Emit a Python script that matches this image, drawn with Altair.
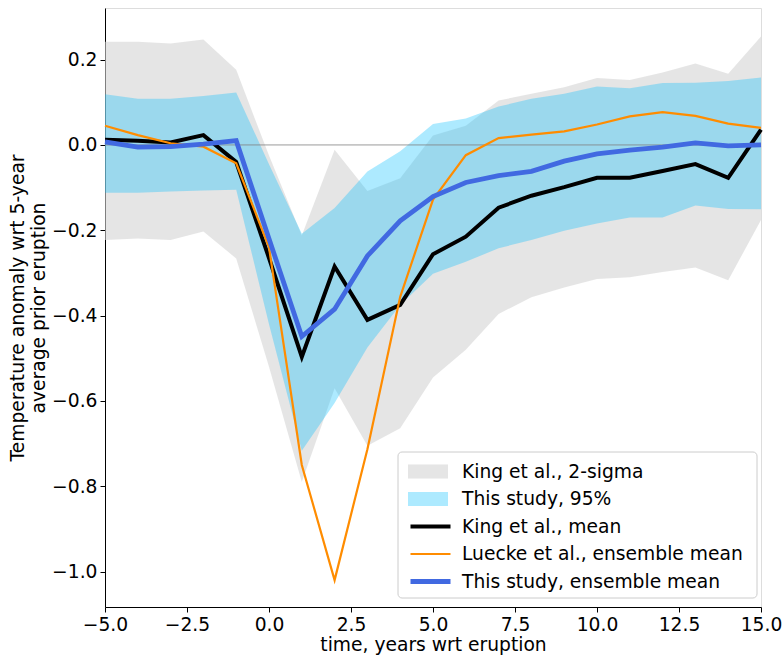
import altair as alt
import pandas as pd

# ---------------- data ----------------
years = list(range(-5, 16))

king_mean = [0.012, 0.010, 0.006, 0.023, -0.040, -0.265, -0.497, -0.285, -0.410, -0.375,
             -0.256, -0.215, -0.147, -0.119, -0.099, -0.077, -0.077, -0.061, -0.045, -0.077, 0.036]
luecke_mean = [0.045, 0.023, 0.004, -0.004, -0.043, -0.240, -0.750, -1.020, -0.713, -0.356,
               -0.128, -0.024, 0.016, 0.024, 0.032, 0.048, 0.067, 0.077, 0.068, 0.050, 0.040]
study_mean = [0.007, -0.005, -0.004, 0.002, 0.010, -0.220, -0.449, -0.385, -0.260, -0.178,
              -0.121, -0.088, -0.072, -0.062, -0.038, -0.021, -0.012, -0.005, 0.005, -0.002, 0.000]
study_hi = [0.119, 0.108, 0.108, 0.115, 0.123, -0.045, -0.208, -0.148, -0.062, -0.015,
            0.049, 0.062, 0.090, 0.108, 0.120, 0.137, 0.133, 0.145, 0.146, 0.150, 0.158]
study_lo = [-0.112, -0.112, -0.109, -0.107, -0.105, -0.420, -0.717, -0.605, -0.475, -0.375,
            -0.302, -0.274, -0.242, -0.223, -0.201, -0.184, -0.170, -0.170, -0.142, -0.150, -0.151]
king_hi = [0.242, 0.242, 0.238, 0.247, 0.176, -0.025, -0.212, -0.011, -0.108, -0.078,
           0.022, 0.045, 0.104, 0.120, 0.135, 0.157, 0.152, 0.170, 0.191, 0.167, 0.254]
king_lo = [-0.223, -0.219, -0.223, -0.203, -0.266, -0.520, -0.790, -0.570, -0.705, -0.664,
           -0.545, -0.480, -0.396, -0.357, -0.334, -0.314, -0.310, -0.298, -0.287, -0.317, -0.176]

x_ticks = [-5, -2.5, 0, 2.5, 5, 7.5, 10, 12.5, 15]
y_ticks = [-1.0, -0.8, -0.6, -0.4, -0.2, 0.0, 0.2]

band_names = ["King et al., 2-sigma", "This study, 95%"]
band_colors = ["rgba(211,211,211,0.6)", "rgba(0,191,255,0.32)"]
line_names = ["King et al., mean", "Luecke et al., ensemble mean", "This study, ensemble mean"]
line_colors = ["#000000", "#ff8c00", "#4169e1"]
line_widths = [4.0, 2.2, 4.8]

x_title = "time, years wrt eruption"
y_title = ["Temperature anomaly wrt 5-year", "average prior eruption"]

# ---------------- tables ----------------
king_band = pd.DataFrame({"year": years, "lo": king_lo, "hi": king_hi, "band": band_names[0]})
study_band = pd.DataFrame({"year": years, "lo": study_lo, "hi": study_hi, "band": band_names[1]})
king_line = pd.DataFrame({"year": years, "v": king_mean, "series": line_names[0]})
luecke_line = pd.DataFrame({"year": years, "v": luecke_mean, "series": line_names[1]})
study_line = pd.DataFrame({"year": years, "v": study_mean, "series": line_names[2]})
one = pd.DataFrame({"z": [0.0]})

FONT = "DejaVu Sans"
FS = 18.7

xs = alt.Scale(domain=[-5, 15], nice=False, zero=False)
ys = alt.Scale(domain=[-1.083, 0.321], nice=False, zero=False)

x_axis = alt.Axis(values=x_ticks, format=".1f", title=x_title, grid=False,
                  labelFontSize=FS, titleFontSize=FS, titleFontWeight="normal",
                  tickSize=5, labelPadding=3, titlePadding=2,
                  labelColor="black", titleColor="black", tickColor="black", domainColor="black",
                  labelFont=FONT, titleFont=FONT, labelFlush=False)
y_axis = alt.Axis(values=y_ticks, format=".1f", title=y_title, grid=False,
                  labelFontSize=FS, titleFontSize=FS, titleFontWeight="normal",
                  tickSize=5, labelPadding=3, titlePadding=3, titleLineHeight=21,
                  labelColor="black", titleColor="black", tickColor="black", domainColor="black",
                  labelFont=FONT, titleFont=FONT, labelFlush=False)

rect_path = "M-1,-0.35L1,-0.35L1,0.35L-1,0.35Z"
fill_legend = alt.Legend(title=None, orient="none", legendX=303, legendY=453.5, padding=0,
                         symbolType=rect_path, symbolSize=1600, clipHeight=20, rowPadding=7.5,
                         labelFontSize=FS, labelFont=FONT, labelColor="black", labelOffset=14,
                         labelLimit=0, symbolStrokeWidth=0)
line_legend = alt.Legend(title=None, orient="none", legendX=303, legendY=508.5, padding=0,
                         symbolType="stroke", symbolSize=1600, clipHeight=20, rowPadding=7.5,
                         labelFontSize=FS, labelFont=FONT, labelColor="black", labelOffset=9,
                         labelLimit=0)

fill_enc = alt.Fill("band:N", scale=alt.Scale(domain=band_names, range=band_colors), legend=fill_legend)
stroke_enc = alt.Stroke("series:N", scale=alt.Scale(domain=line_names, range=line_colors), legend=line_legend)
width_enc = alt.StrokeWidth("series:N",
                            scale=alt.Scale(type="ordinal", domain=line_names, range=line_widths),
                            legend=line_legend)

def band_layer(df):
    return alt.Chart(df).mark_area(opacity=1, strokeWidth=0).encode(
        x=alt.X("year:Q", scale=xs, axis=x_axis),
        y=alt.Y("hi:Q", scale=ys, axis=y_axis),
        y2="lo:Q",
        fill=fill_enc,
    )

def line_layer(df):
    return alt.Chart(df).mark_line(strokeJoin="miter", strokeCap="butt").encode(
        x=alt.X("year:Q", scale=xs, axis=x_axis),
        y=alt.Y("v:Q", scale=ys, axis=y_axis),
        stroke=stroke_enc,
        strokeWidth=width_enc,
    )

zero_rule = alt.Chart(one).mark_rule(color="#808080", strokeWidth=0.8).encode(
    y=alt.Y("z:Q", scale=ys, axis=y_axis)
)

legend_box = alt.Chart(one).mark_rect(fill="white", fillOpacity=0.8, stroke="#cccccc",
                                      strokeWidth=1, cornerRadius=4).encode(
    x=alt.value(293), x2=alt.value(652), y=alt.value(444), y2=alt.value(590)
)

chart = alt.layer(
    band_layer(king_band),
    band_layer(study_band),
    zero_rule,
    line_layer(king_line),
    line_layer(luecke_line),
    line_layer(study_line),
    legend_box,
).properties(
    width=656, height=599,
    autosize=alt.AutoSizeParams(type="none"),
    padding={"left": 105, "top": 8, "right": 23, "bottom": 55},
    background="white",
).configure_view(
    stroke="black", strokeWidth=1
).configure(font=FONT)

chart.save("out.html", embed_options={"renderer": "svg", "actions": False})
